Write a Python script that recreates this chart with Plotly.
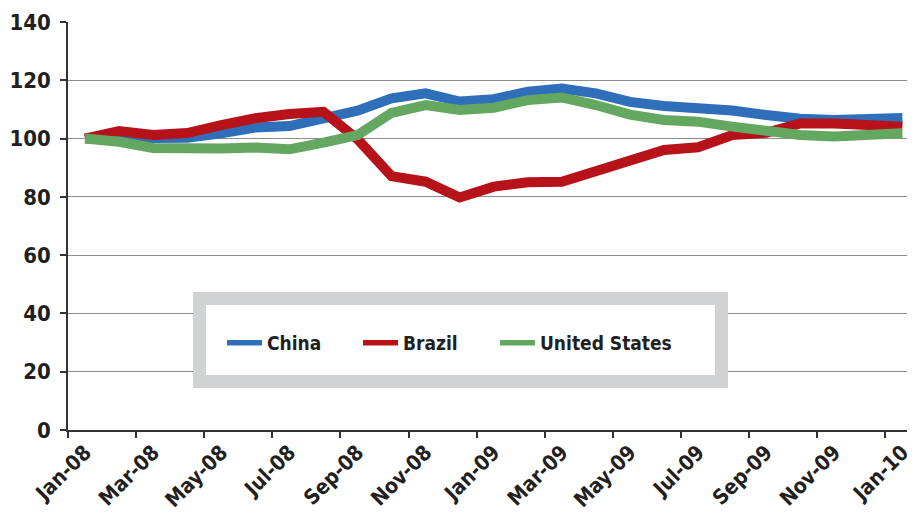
import plotly.graph_objects as go

months = ["Jan-08", "Feb-08", "Mar-08", "Apr-08", "May-08", "Jun-08", "Jul-08",
          "Aug-08", "Sep-08", "Oct-08", "Nov-08", "Dec-08", "Jan-09", "Feb-09",
          "Mar-09", "Apr-09", "May-09", "Jun-09", "Jul-09", "Aug-09", "Sep-09",
          "Oct-09", "Nov-09", "Dec-09", "Jan-10"]

china = [100, 100.2, 99.7, 100.3, 101.8, 103.8, 104.3, 106.6, 109.6, 113.8,
         115.5, 112.7, 113.5, 116.1, 117.2, 115.5, 112.6, 111.2, 110.6, 109.6,
         108.1, 106.8, 106.4, 106.8, 107.1]
brazil = [100, 102.6, 101.2, 101.9, 104.6, 107.0, 108.4, 109.2, 99.8, 87.1,
          85.2, 79.8, 83.5, 85.0, 85.2, 88.6, 92.4, 96.1, 97.0, 101.2,
          102.0, 105.2, 105.2, 104.7, 104.1]
united_states = [100, 98.9, 96.8, 96.3, 96.6, 96.9, 96.3, 98.6, 101.2, 108.8,
                 111.5, 109.8, 110.6, 113.2, 114.1, 111.5, 108.2, 106.4, 105.8, 104.1,
                 102.7, 101.2, 100.7, 101.2, 101.8]

tick_labels = ["Jan-08", "Mar-08", "May-08", "Jul-08", "Sep-08", "Nov-08", "Jan-09",
               "Mar-09", "May-09", "Jul-09", "Sep-09", "Nov-09", "Jan-10"]

series_names = ["China", "Brazil", "United States"]
series_values = [china, brazil, united_states]
series_colors = ["#2f6fba", "#b7111a", "#63a760"]
legend_ids = ["legend", "legend2", "legend3"]
legend_x = [0.1818, 0.3424, 0.5041]

FONT = "DejaVu Sans Condensed, Liberation Sans Narrow, sans-serif"
TXT = "#231f20"

fig = go.Figure()
for name, vals, col in zip(series_names, series_values, series_colors):
    fig.add_trace(go.Scatter(x=months, y=vals, name=name, mode="lines",
                             line=dict(color=col, width=10), showlegend=False))

# legend entries (thin key lines), one legend per entry for exact spacing
for name, col, lid in zip(series_names, series_colors, legend_ids):
    fig.add_trace(go.Scatter(x=[None], y=[None], name=name, mode="lines",
                             line=dict(color=col, width=5.5), legend=lid,
                             showlegend=True, hoverinfo="skip"))

# legend frame (thick light-grey border, white inside)
fig.add_shape(type="rect", xref="paper", yref="paper",
              x0=0.1553, x1=0.7715, y0=0.1189, y1=0.3223,
              line=dict(color="#d1d2d4", width=13), fillcolor="white", layer="above")

leg_common = dict(orientation="h", y=0.2132, xanchor="left", yanchor="middle",
                  bgcolor="rgba(0,0,0,0)", borderwidth=0, itemwidth=35,
                  font=dict(family=FONT, size=19, color=TXT, weight="bold"))

fig.update_layout(
    width=907, height=508,
    margin=dict(l=60, r=0, t=14, b=86, pad=0),
    paper_bgcolor="white", plot_bgcolor="white",
    font=dict(family=FONT, color=TXT, weight="bold"),
    showlegend=True,
    legend=dict(x=legend_x[0], **leg_common),
    legend2=dict(x=legend_x[1], **leg_common),
    legend3=dict(x=legend_x[2], **leg_common),
    xaxis=dict(type="category", range=[-0.5, 24.37], tickmode="array",
               tickvals=tick_labels, ticktext=tick_labels, tickson="boundaries",
               ticks="outside", ticklen=6, tickwidth=1.5, tickcolor="#333",
               showline=True, linecolor="#333", linewidth=1.5, showgrid=False,
               automargin=False, ticklabelstandoff=0,
               tickangle=-45, tickfont=dict(family=FONT, size=21, color=TXT, weight="bold")),
    yaxis=dict(range=[0, 140], dtick=20, tick0=0, ticks="outside", ticklen=6,
               tickwidth=1.5, tickcolor="#333", showline=True, linecolor="#333",
               linewidth=1.5, showgrid=True, gridcolor="#8c8c8c", gridwidth=1.2,
               zeroline=False, ticklabelstandoff=5, automargin=False,
               tickfont=dict(family=FONT, size=22, color=TXT, weight="bold")),
)

fig.write_html("out.html")
